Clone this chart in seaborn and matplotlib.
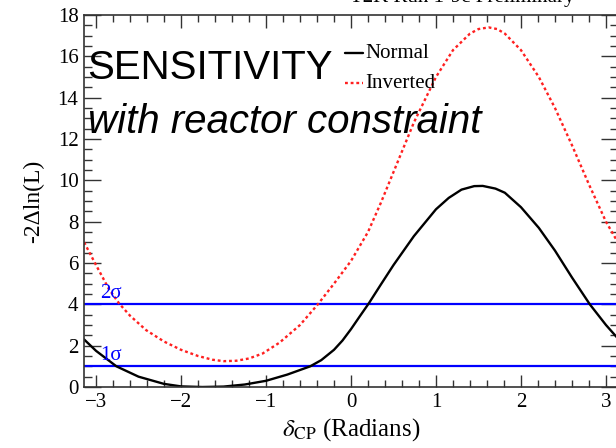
import matplotlib
matplotlib.use("Agg")
import matplotlib.pyplot as plt
import numpy as np
import pandas as pd
import seaborn as sns

# values
dcp_normal = [-3.14, -3.0, -2.76, -2.5, -2.2, -2.0, -1.75, -1.5, -1.25, -1.0, -0.75,
              -0.48, -0.35, -0.2, -0.1, 0.0, 0.1, 0.21, 0.35, 0.5, 0.74, 1.0, 1.15,
              1.3, 1.45, 1.55, 1.7, 1.81, 2.0, 2.21, 2.4, 2.6, 2.81, 3.0, 3.14]
chi2_normal = [2.3, 1.75, 1.0, 0.5, 0.15, 0.03, 0.0, 0.02, 0.12, 0.3, 0.6,
               1.0, 1.3, 1.8, 2.25, 2.8, 3.4, 4.05, 4.95, 5.9, 7.3, 8.6, 9.15,
               9.55, 9.72, 9.73, 9.6, 9.4, 8.7, 7.7, 6.6, 5.3, 4.0, 3.0, 2.35]

dcp_inverted = [-3.14, -3.0, -2.85, -2.73, -2.6, -2.41, -2.2, -2.0, -1.8, -1.63, -1.5,
                -1.35, -1.2, -1.04, -0.84, -0.6, -0.39, -0.2, 0.0, 0.2, 0.35, 0.5,
                0.74, 1.0, 1.2, 1.4, 1.5, 1.62, 1.72, 1.81, 2.0, 2.21, 2.4, 2.6,
                2.8, 3.0, 3.14]
chi2_inverted = [7.0, 5.9, 4.75, 4.05, 3.45, 2.75, 2.2, 1.8, 1.5, 1.32, 1.25,
                 1.27, 1.38, 1.62, 2.15, 3.0, 4.0, 5.0, 6.1, 7.5, 8.9, 10.4,
                 12.8, 15.0, 16.3, 17.1, 17.32, 17.4, 17.32, 17.1, 16.3, 15.0, 13.5, 11.7,
                 9.8, 8.0, 7.0]

sigma_levels = [1, 4]
sigma_labels = ["1σ", "2σ"]

df = pd.concat([
    pd.DataFrame({"dcp": dcp_normal, "chi2": chi2_normal, "hierarchy": "Normal"}),
    pd.DataFrame({"dcp": dcp_inverted, "chi2": chi2_inverted, "hierarchy": "Inverted"}),
])

sns.set_style("ticks")
plt.rcParams["font.family"] = ["Liberation Serif", "DejaVu Serif"]
plt.rcParams["mathtext.fontset"] = "stix"
plt.rcParams["text.color"] = "black"
plt.rcParams["axes.labelcolor"] = "black"
plt.rcParams["xtick.labelcolor"] = "black"
plt.rcParams["ytick.labelcolor"] = "black"

fig = plt.figure(figsize=(6.16, 4.48), dpi=100)
ax = fig.add_axes([84 / 616, 61 / 448, 534 / 616, 372 / 448])

sns.lineplot(data=df, x="dcp", y="chi2", hue="hierarchy", style="hierarchy",
             palette={"Normal": "black", "Inverted": "#ff2020"},
             dashes={"Normal": "", "Inverted": (1.2, 1.2)},
             linewidth=1.7, sort=False, ax=ax, legend=False)

for lvl, lab in zip(sigma_levels, sigma_labels):
    ax.axhline(lvl, color="#0000ff", lw=1.6, zorder=1)
    ax.text(-2.95, lvl + 0.05, lab, color="#0000ff", fontsize=15,
            ha="left", va="bottom")

ax.set_xlim(-np.pi, np.pi)
ax.set_ylim(0, 18)
ax.set_xticks(range(-3, 4))
ax.set_xticklabels(["\u22123", "\u22122", "\u22121", "0", "1", "2", "3"])
ax.set_yticks(range(0, 19, 2))
ax.xaxis.set_minor_locator(matplotlib.ticker.MultipleLocator(0.2))
ax.yaxis.set_minor_locator(matplotlib.ticker.MultipleLocator(0.5))
ax.tick_params(which="both", direction="in", top=True, right=True,
               labelsize=15, width=1.0, color="#333333", pad=4)
ax.tick_params(axis="y", which="major", length=12)
ax.tick_params(axis="y", which="minor", length=6)
ax.tick_params(axis="x", which="major", length=9)
ax.tick_params(axis="x", which="minor", length=5)
for sp in ax.spines.values():
    sp.set_linewidth(1.2)
    sp.set_color("#333333")

ax.set_xlabel(r"$\delta_{\mathrm{CP}}$ (Radians)", fontsize=18, labelpad=3)
ax.set_ylabel("-2\u0394ln(L)", fontsize=17, labelpad=10)

# legend, drawn by hand like the ROOT one
ax.plot([-0.07, 0.14], [16.15, 16.15], color="black", lw=1.7)
ax.text(0.17, 16.15, "Normal", fontsize=15, va="center")
ax.plot([-0.07, 0.14], [14.7, 14.7], color="#ff2020", lw=1.7, dashes=(1.2, 1.2))
ax.text(0.17, 14.7, "Inverted", fontsize=15, va="center")

ax.text(-3.1, 15.45, "SENSITIVITY", fontsize=29, family=["Liberation Sans"],
        va="center", ha="left")
ax.text(-3.1, 12.8, "with reactor constraint", fontsize=29, style="italic",
        family=["Liberation Sans"], va="center", ha="left")

fig.text(0.75, 1.005, "T2K Run 1-9c Preliminary", fontsize=15, ha="center",
         va="center")

fig.savefig("out.png", dpi=100)
